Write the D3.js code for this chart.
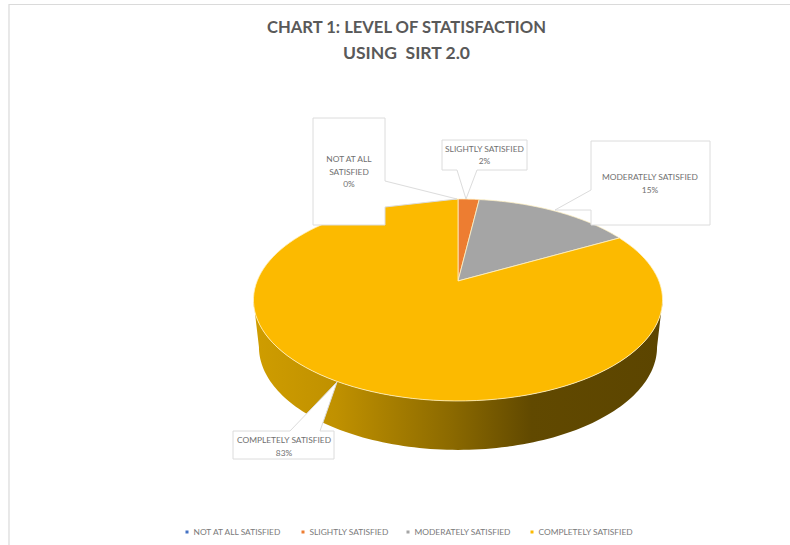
<!DOCTYPE html>
<html>
<head>
<meta charset="utf-8">
<script src="https://cdn.jsdelivr.net/npm/d3@7/dist/d3.min.js"></script>
<style>
  html, body { margin: 0; padding: 0; background: #fff; }
  svg { display: block; }
  text { font-family: Lato, "Open Sans", sans-serif; }
</style>
</head>
<body>
<svg id="chart" width="790" height="545"></svg>
<script>
// Satisfaction shares
const categories = ["NOT AT ALL SATISFIED", "SLIGHTLY SATISFIED", "MODERATELY SATISFIED", "COMPLETELY SATISFIED"];
const shares = [0, 2, 15, 83];
const colors = ["#4472c4", "#ed7d31", "#a5a5a5", "#fcba00"];
const titleLines = ["CHART 1: LEVEL OF STATISFACTION", "USING  SIRT 2.0"];
const titleWidths = [279, 127];

const svg = d3.select("#chart");
const TAU = 2 * Math.PI;

// Perspective disc: angle -> screen point, for the top face and for the base
const tilt = -0.188;
const topFace = { cx: 458, cy: 281, a: 200.9, b: 97.4 };
const baseFace = { cx: 458, cy: 327.6, a: 195.5, b: 99.3 };
function project(face, angle) {
  const u = Math.sin(angle), v = -Math.cos(angle), d = 1 + tilt * v;
  return [face.cx + face.a * u / d, face.cy + face.b * v / d];
}

const pie = d3.pie().sort(null).value(d => d);
const slices = pie(shares);
const line = d3.line();
const sweep = (face, a0, a1) => d3.range(0, 121).map(i => project(face, a0 + (a1 - a0) * i / 120));

// Shaded rim of the large slice
const defs = svg.append("defs");
const rim = defs.append("linearGradient").attr("id", "rim")
  .attr("gradientUnits", "userSpaceOnUse")
  .attr("x1", 254).attr("x2", 662).attr("y1", 0).attr("y2", 0);
[[0, "#cf9d00"], [0.2, "#c09100"], [0.48, "#8c6a00"], [0.68, "#614900"], [1, "#5c4500"]]
  .forEach(([o, c]) => rim.append("stop").attr("offset", o).attr("stop-color", c));

// The rim runs between the widest points of the disc, where the tilted silhouette turns
const frontStart = Math.PI / 2 + Math.asin(-tilt);
const frontEnd = TAU - frontStart;
const wallPoints = sweep(topFace, frontStart, frontEnd)
  .concat(sweep(baseFace, frontEnd, frontStart));
svg.append("path").attr("d", line(wallPoints) + "Z").attr("fill", "url(#rim)");

// Top face
const wedge = d => {
  const pts = sweep(topFace, d.startAngle, d.endAngle);
  return line([[topFace.cx, topFace.cy], ...pts]) + "Z";
};
svg.append("g").selectAll("path")
  .data(slices.filter(d => d.value > 0))
  .join("path")
  .attr("d", wedge)
  .attr("fill", d => colors[d.index])
  .attr("stroke", "#fff1c4")
  .attr("stroke-width", 0.8)
  .attr("stroke-linejoin", "round");

// Callouts: white boxes with a pointer toward the slice
const callouts = [
  { outline: [[313,118],[385,118],[385,181],[457,199],[385,207],[385,225],[313,225]], x: 349, ys: [159,171.5,184], lines: ["NOT AT ALL", "SATISFIED"], index: 0 },
  { outline: [[442,140],[527,140],[527,170],[477,170],[466,199],[457,170],[442,170]], x: 484.5, ys: [149,161], lines: ["SLIGHTLY SATISFIED"], index: 1 },
  { outline: [[591,141],[710,141],[710,225],[591,225],[591,210],[555,210],[591,190]], x: 650, ys: [177,190], lines: ["MODERATELY SATISFIED"], index: 2 },
  { outline: [[233,431],[290,431],[337,382],[320,431],[334,431],[334,459],[233,459]], x: 284, ys: [440,453], lines: ["COMPLETELY SATISFIED"], index: 3 }
];
const callout = svg.append("g").selectAll("g").data(callouts).join("g");
callout.append("path")
  .attr("d", d => line(d.outline) + "Z")
  .attr("fill", "#fff")
  .attr("stroke", "#dcdcdc")
  .attr("stroke-width", 1);
callout.each(function (d) {
  const rows = d.lines.concat(shares[d.index] + "%");
  d3.select(this).selectAll("text").data(rows).join("text")
    .attr("x", d.x)
    .attr("y", (r, i) => d.ys[i] + 3)
    .attr("text-anchor", "middle")
    .attr("font-size", 8.4)
    .attr("fill", "#707070")
    .text(r => r);
});

// Title
svg.append("g").selectAll("text").data(titleLines).join("text")
  .attr("x", 406.5)
  .attr("y", (d, i) => 33 + i * 26)
  .attr("text-anchor", "middle")
  .attr("font-size", 17.5)
  .attr("font-weight", 700)
  .attr("fill", "#595959")
  .attr("textLength", (d, i) => titleWidths[i])
  .attr("lengthAdjust", "spacingAndGlyphs")
  .style("white-space", "pre")
  .text(d => d);

// Legend
const legendMarks = [187, 303, 408, 532];
const legend = svg.append("g").selectAll("g").data(categories).join("g")
  .attr("transform", (d, i) => `translate(${legendMarks[i]},532)`);
legend.append("rect")
  .attr("x", -1.5).attr("y", -1.5).attr("width", 3).attr("height", 3)
  .attr("fill", (d, i) => colors[i]);
legend.append("text")
  .attr("x", 6.5).attr("y", 3)
  .attr("font-size", 8.4)
  .attr("fill", "#7a7a7a")
  .text(d => d);

// Chart frame
svg.append("path")
  .attr("d", "M9,545V4.5H790")
  .attr("fill", "none")
  .attr("stroke", "#dadada")
  .attr("stroke-width", 1.2);
</script>
</body>
</html>
